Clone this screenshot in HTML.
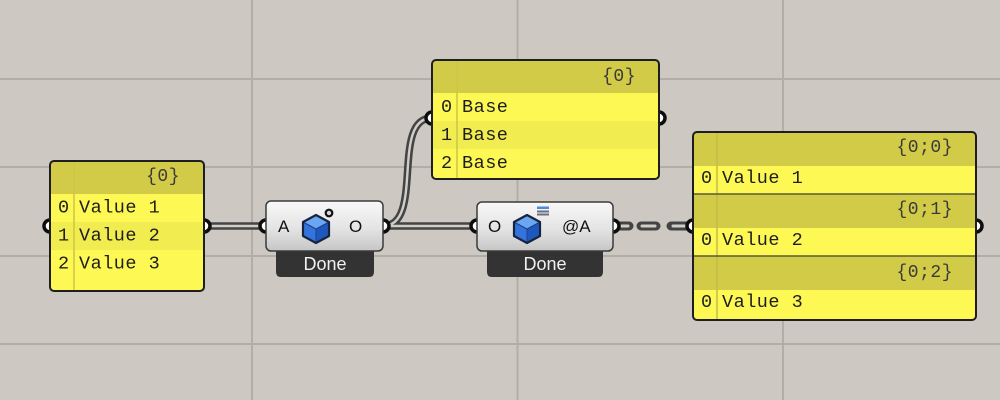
<!DOCTYPE html>
<html><head><meta charset="utf-8"><style>
html,body{margin:0;padding:0;background:#cdc9c2;}
svg{display:block;}
.m{font-family:"Liberation Mono",monospace;font-size:18.5px;letter-spacing:0.5px;fill:#1e1e1e;}
.h{font-family:"Liberation Mono",monospace;font-size:18px;letter-spacing:0.5px;fill:#3a3a3a;}
.s{font-family:"Liberation Sans",sans-serif;font-size:17px;fill:#111;}
.d{font-family:"Liberation Sans",sans-serif;font-size:18px;fill:#f0f0f0;}
</style></head><body>
<svg width="1000" height="400" viewBox="0 0 1000 400" xmlns="http://www.w3.org/2000/svg">
<defs>
<linearGradient id="cg" x1="0" y1="0" x2="0" y2="1">
<stop offset="0" stop-color="#f8f8f8"/><stop offset="0.55" stop-color="#e4e4e4"/><stop offset="1" stop-color="#c6c6c6"/>
</linearGradient>
<g id="cube">
<polygon points="0,-14 13,-7 0,0 -13,-7" fill="#6aa6f2"/>
<polygon points="-13,-7 0,0 0,14 -13,7" fill="#3274dc"/>
<polygon points="0,0 13,-7 13,7 0,14" fill="#1f58bd"/>
<polyline points="-13,-7 0,0 13,-7" fill="none" stroke="#1c3f86" stroke-width="1"/>
<line x1="0" y1="0" x2="0" y2="14" stroke="#1c3f86" stroke-width="1"/>
<polygon points="0,-14 13,-7 13,7 0,14 -13,7 -13,-7" fill="none" stroke="#17243f" stroke-width="2.2" stroke-linejoin="round"/>
</g>
</defs>
<rect width="1000" height="400" fill="#cdc9c2"/>
<g stroke="#b2aea7" stroke-width="2">
<line x1="252" y1="0" x2="252" y2="400"/>
<line x1="517.5" y1="0" x2="517.5" y2="400"/>
<line x1="783" y1="0" x2="783" y2="400"/>
<line x1="0" y1="79" x2="1000" y2="79"/>
<line x1="0" y1="167" x2="1000" y2="167"/>
<line x1="0" y1="256" x2="1000" y2="256"/>
<line x1="0" y1="344" x2="1000" y2="344"/>
</g>

<!-- wires -->
<g fill="none" stroke-linecap="round">
<path d="M204,226 L266,226 M383,226 L477,226 M383,226 C425,226 390,118 432,118" stroke="#444" stroke-width="7.5"/>
<path d="M204,226 L266,226 M383,226 L477,226 M383,226 C425,226 390,118 432,118" stroke="#d2cec7" stroke-width="2.4"/>
<path d="M615,226 L629,226 M641,226 L656,226 M671,226 L692,226" stroke="#444" stroke-width="9"/>
<path d="M619,226 L628,226 M642,226 L655,226 M673,226 L690,226" stroke="#d2cec7" stroke-width="3"/>
</g>

<!-- grips -->
<g fill="#fff" stroke="#0d0d0d" stroke-width="3.5">
<circle cx="50" cy="226" r="6"/><circle cx="204" cy="226" r="6"/>
<circle cx="432" cy="118" r="6"/><circle cx="659" cy="118" r="6"/>
<circle cx="693" cy="226" r="6"/><circle cx="976" cy="226" r="6"/>
<circle cx="266" cy="226" r="6"/><circle cx="383" cy="226" r="6"/>
<circle cx="477" cy="226" r="6"/><circle cx="613" cy="226" r="6"/>
</g>

<!-- left panel -->
<rect x="50" y="161" width="154" height="130" rx="4" fill="#fdf853"/>
<rect x="51" y="162" width="152" height="32" fill="#d2cb48"/>
<rect x="51" y="222" width="152" height="28" fill="#f1ec50"/>
<line x1="74" y1="162" x2="74" y2="290" stroke="#cdc646" stroke-width="1.5"/>
<rect x="50" y="161" width="154" height="130" rx="4" fill="none" stroke="#1e1e1e" stroke-width="2"/>
<text class="h" x="180" y="181" text-anchor="end">{0}</text>
<text class="m" x="58" y="212.5">0</text><text class="m" x="79" y="212.5">Value 1</text>
<text class="m" x="58" y="240.5">1</text><text class="m" x="79" y="240.5">Value 2</text>
<text class="m" x="58" y="268.5">2</text><text class="m" x="79" y="268.5">Value 3</text>

<!-- base panel -->
<rect x="432" y="60" width="227" height="119" rx="4" fill="#fdf853"/>
<rect x="433" y="61" width="225" height="32" fill="#d2cb48"/>
<rect x="433" y="121" width="225" height="28" fill="#f1ec50"/>
<line x1="457" y1="61" x2="457" y2="178" stroke="#cdc646" stroke-width="1.5"/>
<rect x="432" y="60" width="227" height="119" rx="4" fill="none" stroke="#1e1e1e" stroke-width="2"/>
<text class="h" x="636" y="81" text-anchor="end">{0}</text>
<text class="m" x="441" y="112">0</text><text class="m" x="462" y="112">Base</text>
<text class="m" x="441" y="140">1</text><text class="m" x="462" y="140">Base</text>
<text class="m" x="441" y="168">2</text><text class="m" x="462" y="168">Base</text>

<!-- right panel -->
<rect x="693" y="132" width="283" height="188" rx="4" fill="#fdf853"/>
<rect x="694" y="133" width="281" height="33" fill="#d2cb48"/>
<rect x="694" y="194" width="281" height="34" fill="#d2cb48"/>
<rect x="694" y="256" width="281" height="34" fill="#d2cb48"/>
<line x1="717" y1="133" x2="717" y2="319" stroke="#c4bd44" stroke-width="1.5"/>
<line x1="694" y1="194" x2="975" y2="194" stroke="#5a5a3a" stroke-width="1.5"/>
<line x1="694" y1="256" x2="975" y2="256" stroke="#5a5a3a" stroke-width="1.5"/>
<rect x="693" y="132" width="283" height="188" rx="4" fill="none" stroke="#1e1e1e" stroke-width="2"/>
<text class="h" x="953" y="152" text-anchor="end">{0;0}</text>
<text class="m" x="701" y="183">0</text><text class="m" x="722" y="183">Value 1</text>
<text class="h" x="953" y="214" text-anchor="end">{0;1}</text>
<text class="m" x="701" y="245">0</text><text class="m" x="722" y="245">Value 2</text>
<text class="h" x="953" y="277" text-anchor="end">{0;2}</text>
<text class="m" x="701" y="307">0</text><text class="m" x="722" y="307">Value 3</text>

<!-- component 1 -->
<path d="M276,245 L374,245 L374,272 Q374,277 369,277 L281,277 Q276,277 276,272 Z" fill="#333"/>
<rect x="266" y="201" width="117" height="50" rx="5" fill="url(#cg)" stroke="#3a3a3a" stroke-width="1.5"/>
<text class="d" x="325" y="270" text-anchor="middle">Done</text>
<text class="s" x="278" y="232">A</text>
<text class="s" x="349" y="232">O</text>
<use href="#cube" x="316" y="229"/>
<circle cx="329" cy="213" r="3.3" fill="#d8d8d8" stroke="#111" stroke-width="2.2"/>

<!-- component 2 -->
<path d="M487,245 L603,245 L603,272 Q603,277 598,277 L492,277 Q487,277 487,272 Z" fill="#333"/>
<rect x="477" y="202" width="136" height="49" rx="5" fill="url(#cg)" stroke="#3a3a3a" stroke-width="1.5"/>
<text class="d" x="545" y="270" text-anchor="middle">Done</text>
<text class="s" x="488" y="232">O</text>
<text class="s" x="562" y="232">@A</text>
<use href="#cube" x="527" y="229"/>
<rect x="537" y="206.5" width="12" height="2.5" fill="#4a8be0"/>
<rect x="537" y="210.5" width="12" height="2" fill="#6a7080"/>
<rect x="537" y="213.5" width="12" height="2" fill="#6a7080"/>
</svg>
</body></html>
